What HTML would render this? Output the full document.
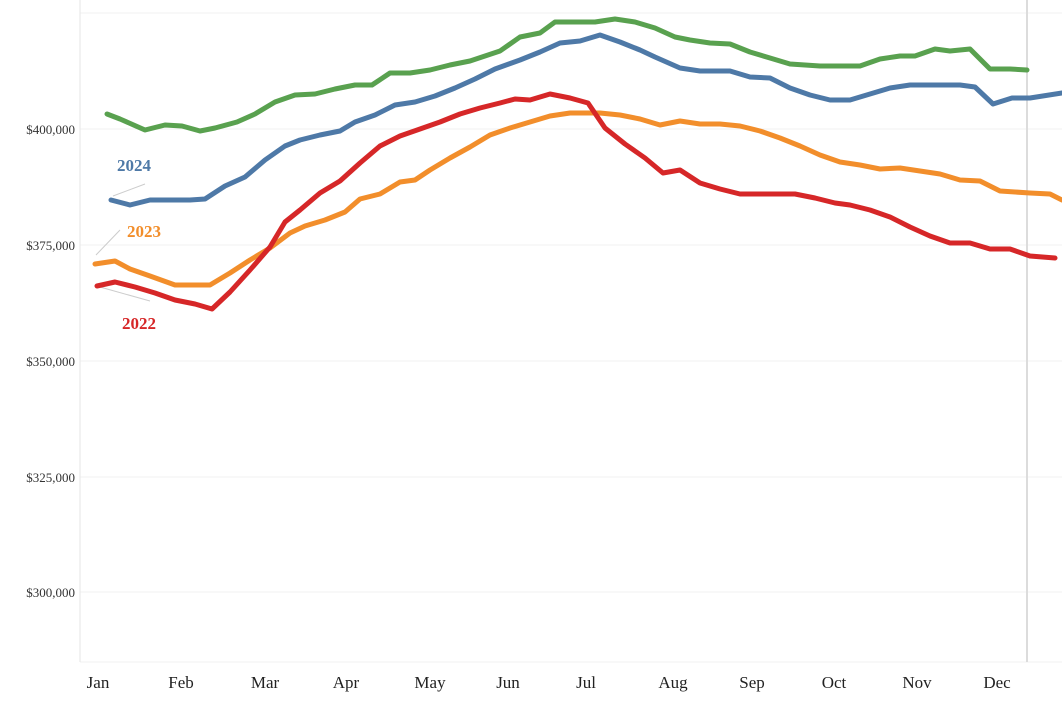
<!DOCTYPE html>
<html><head><meta charset="utf-8"><style>
html,body{margin:0;padding:0;background:#fff;}
svg{display:block;font-family:"Liberation Serif",serif;}
</style></head><body>
<svg width="1062" height="703" viewBox="0 0 1062 703">
<g stroke="#f0f0f0" stroke-width="1">
<line x1="80" y1="13" x2="1062" y2="13"/><line x1="80" y1="129" x2="1062" y2="129"/>
<line x1="80" y1="245" x2="1062" y2="245"/><line x1="80" y1="361" x2="1062" y2="361"/>
<line x1="80" y1="477" x2="1062" y2="477"/><line x1="80" y1="592" x2="1062" y2="592"/>
<line x1="80" y1="662" x2="1062" y2="662"/>
</g>
<line x1="80" y1="0" x2="80" y2="662" stroke="#e6e6e6"/>
<line x1="1027" y1="0" x2="1027" y2="662" stroke="#dcdcdc" stroke-width="2"/>
<g font-size="13" fill="#333" text-anchor="end">
<text x="75" y="134">$400,000</text><text x="75" y="250">$375,000</text>
<text x="75" y="366">$350,000</text><text x="75" y="482">$325,000</text>
<text x="75" y="597">$300,000</text>
</g>
<g font-size="17" fill="#222" text-anchor="middle">
<text x="98" y="688">Jan</text><text x="181" y="688">Feb</text><text x="265" y="688">Mar</text>
<text x="346" y="688">Apr</text><text x="430" y="688">May</text><text x="508" y="688">Jun</text>
<text x="586" y="688">Jul</text><text x="673" y="688">Aug</text><text x="752" y="688">Sep</text>
<text x="834" y="688">Oct</text><text x="917" y="688">Nov</text><text x="997" y="688">Dec</text>
</g>
<g stroke="#ccc" stroke-width="1" fill="none">
<line x1="113" y1="196" x2="145" y2="184"/><line x1="96" y1="255" x2="120" y2="230"/>
<line x1="100" y1="287" x2="150" y2="301"/>
</g>
<g fill="none" stroke-width="5" stroke-linejoin="round" stroke-linecap="round">
<polyline stroke="#59a14f" points="107,114 120,119 145,130 165,125 182,126 200,131 215,128 237,122 255,114 275,102 295,95 315,94 335,89 355,85 372,85 390,73 410,73 430,70 450,65 470,61 500,51 520,37 540,33 555,22 595,22 615,19 635,22 655,28 675,37 690,40 710,43 730,44 750,52 770,58 790,64 820,66 860,66 880,59 900,56 915,56 935,49 950,51 970,49 990,69 1010,69 1027,70"/>
<polyline stroke="#4e79a7" points="111,200 130,205 150,200 170,200 190,200 205,199 225,186 245,177 265,160 285,146 300,140 320,135 340,131 355,122 375,115 395,105 415,102 435,96 455,88 475,79 495,69 520,60 540,52 560,43 580,41 600,35 620,42 640,50 655,57 680,68 700,71 730,71 750,77 770,78 790,88 810,95 830,100 850,100 870,94 890,88 910,85 960,85 975,87 993,104 1012,98 1030,98 1062,93"/>
<polyline stroke="#f28e2b" points="95,264 115,261 130,269 150,276 175,285 210,285 230,273 250,260 270,248 290,233 305,226 325,220 345,212 360,199 380,194 400,182 415,180 430,170 450,158 470,147 490,135 510,128 530,122 550,116 570,113 600,113 620,115 640,119 660,125 680,121 700,124 720,124 740,126 760,131 780,138 800,146 820,155 840,162 860,165 880,169 900,168 920,171 940,174 960,180 980,181 1000,191 1030,193 1050,194 1062,200"/>
<polyline stroke="#d62728" points="97,286 115,282 135,287 155,293 175,300 195,304 212,309 230,292 250,270 270,247 285,222 300,210 320,193 340,181 360,163 380,146 400,136 420,129 440,122 460,114 480,108 500,103 515,99 530,100 550,94 570,98 588,103 605,128 625,144 645,158 663,173 680,170 700,183 720,189 740,194 760,194 795,194 815,198 835,203 850,205 870,210 890,217 910,227 930,236 950,243 970,243 990,249 1010,249 1030,256 1055,258"/>
</g>
<g font-size="17" font-weight="bold">
<text x="117" y="171" fill="#4e79a7">2024</text>
<text x="127" y="237" fill="#f28e2b">2023</text>
<text x="122" y="329" fill="#d62728">2022</text>
</g>
</svg>
</body></html>
